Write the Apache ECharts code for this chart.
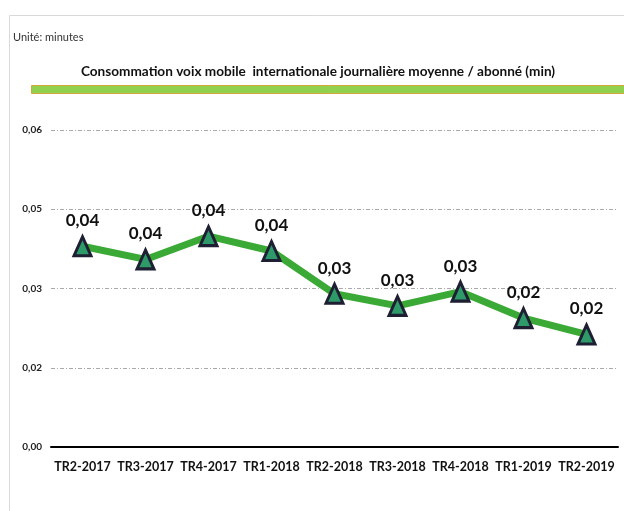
<!DOCTYPE html>
<html>
<head>
<meta charset="utf-8">
<script src="https://cdn.jsdelivr.net/npm/echarts@6/dist/echarts.min.js"></script>
<style>
  html, body { margin: 0; padding: 0; background: #fff; }
  #chart { width: 624px; height: 511px; }
</style>
</head>
<body>
<div id="chart"></div>
<script>
  // trimestres
  var categories = ['TR2-2017', 'TR3-2017', 'TR4-2017', 'TR1-2018', 'TR2-2018',
    'TR3-2018', 'TR4-2018', 'TR1-2019', 'TR2-2019'];
  // minutes / abonné / jour
  var values = [0.0380, 0.0355, 0.0399, 0.0371, 0.0290, 0.0267, 0.0294, 0.0244, 0.0213];
  // libellés de l'axe vertical (pas de 0,015)
  var yTickLabels = ['0,00', '0,02', '0,03', '0,05', '0,06'];

  var font = 'Lato, "Open Sans", sans-serif';

  var chart = echarts.init(document.getElementById('chart'));
  chart.setOption({
    animation: false,
    textStyle: { fontFamily: font },
    grid: { left: 51, right: 6, top: 130, bottom: 64 },
    graphic: [
      {
        type: 'rect', silent: true,
        shape: { x: 9.5, y: 15.5, width: 700, height: 600 },
        style: { fill: 'none', stroke: '#d9d9d9', lineWidth: 1 }
      },
      {
        type: 'text', left: 13, top: 32,
        style: { text: 'Unité: minutes', fontSize: 11, fill: '#333', fontFamily: font }
      },
      {
        type: 'text', x: 318, y: 72,
        style: {
          text: 'Consommation voix mobile  internationale journalière moyenne / abonné (min)',
          fontSize: 13.6, fontWeight: 'bold', fill: '#111', fontFamily: font,
          align: 'center', verticalAlign: 'middle'
        }
      },
      {
        type: 'rect', silent: true,
        shape: { x: 31.5, y: 85.5, width: 600, height: 8 },
        style: { fill: '#92D050', stroke: '#D4A73A', lineWidth: 1 }
      }
    ],
    xAxis: {
      type: 'category',
      data: categories,
      axisLine: { lineStyle: { color: '#000', width: 2 } },
      axisTick: { length: 5, lineStyle: { color: '#000', width: 1.5 } },
      axisLabel: {
        color: '#111', fontSize: 12.5, fontWeight: 'bold', margin: 13, interval: 0,
        fontFamily: font
      }
    },
    yAxis: {
      type: 'value',
      min: 0, max: 0.06, interval: 0.015,
      axisLine: { show: false },
      axisTick: { show: false },
      splitLine: { lineStyle: { color: '#aaa', width: 1, type: [4, 2, 1, 2] } },
      axisLabel: {
        color: '#222', fontSize: 10, fontWeight: 'bold', margin: 9, fontFamily: font,
        formatter: function (v) { return yTickLabels[Math.round(v / 0.015)]; }
      }
    },
    series: [{
      type: 'line',
      data: values,
      symbol: 'triangle',
      symbolSize: [17, 19],
      lineStyle: { color: '#3BA935', width: 7 },
      itemStyle: { color: '#2E9A6A', borderColor: '#1E1F33', borderWidth: 3 },
      label: {
        show: true, position: 'top', distance: 6,
        fontSize: 17, fontWeight: 'bold', color: '#111', fontFamily: font,
        formatter: function (p) { return p.value.toFixed(2).replace('.', ','); }
      },
      z: 3
    }]
  });
</script>
</body>
</html>
